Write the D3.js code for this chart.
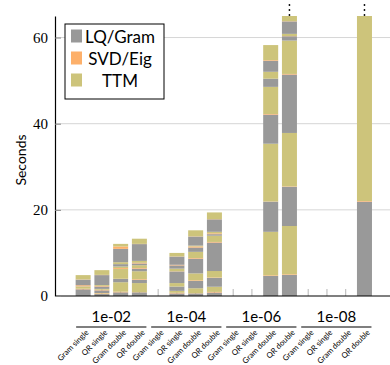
<!DOCTYPE html>
<html>
<head>
<meta charset="utf-8">
<script src="https://d3js.org/d3.v7.min.js"></script>
<style>
  body { margin: 0; background: #fff; }
  svg { display: block; }
</style>
</head>
<body>
<div id="chart"></div>
<script>
const tolerances = ["1e-02", "1e-04", "1e-06", "1e-08"];
const variants = ["Gram single", "QR single", "Gram double", "QR double"];
const components = ["LQ/Gram", "SVD/Eig", "TTM"];
const yTicks = [0, 20, 40, 60];

// seconds per sweep, one row per bar (tolerance by tolerance, variants in order)
const lqTimes = [
  [1.55, 0.05, 1.3],
  [0.45, 0.6, 0.55, 2.3],
  [0.85, 0.75, 0.05, 0.55, 3.1],
  [0.85, 0.75, 0.6, 0.4, 3.9],
  [],
  [0.6, 1.0, 2.7, 0.75, 1.9],
  [0.6, 1.7, 3.4, 1.0, 2.1],
  [0.8, 2.05, 6.6, 0.35, 2.9],
  [],
  [],
  [4.65, 7.0, 6.75, 1.9, 2.55],
  [4.9, 9.1, 13.55, 1.0, 2.9],
  [],
  [],
  [],
  [21.9]
];
const svdTimes = [
  [0.15, 0.25, 0.05],
  [0.15, 0.15, 0.15, 0.05],
  [0.15, 0.05, 0.2, 0, 0.55],
  [0.05, 0.15, 0.15, 0.15, 0.05],
  [],
  [0.15, 0, 0.05, 0.15, 0.05],
  [0.05, 0.15, 0.15, 0.25, 0.05],
  [0.15, 0.1, 0.15, 0.2, 0.05],
  [],
  [],
  [0.15, 0.05, 0.15, 0, 0.15],
  [0.15, 0.1, 0.15, 0.05, 0.05],
  [],
  [],
  [],
  [0.15]
];
const ttmTimes = [
  [0.5, 0.0, 1.0],
  [0.1, 0.2, 0.2, 1.1],
  [2.2, 2.25, 0.35, 0.45, 0.6],
  [2.1, 1.85, 0.65, 0.45, 1.2],
  [],
  [0.45, 0.8, 0.6, 0, 0.8],
  [1.15, 1.6, 1.45, 0.2, 1.4],
  [1.2, 1.5, 1.45, 0.35, 1.55],
  [],
  [],
  [10.1, 13.4, 6.3, 1.6, 3.5],
  [11.2, 12.4, 7.75, 0.5, 5.0],
  [],
  [],
  [],
  [50]
];

const colors = ["#999999", "#fdb06a", "#cdc47b"];
const yMax = 65;

const width = 390, height = 365;
const plot = { left: 55, right: 392.6, top: 16, bottom: 296 };

const svg = d3.select("#chart").append("svg")
  .attr("width", width)
  .attr("height", height);

const barKeys = [];
tolerances.forEach(t => variants.forEach(v => barKeys.push(t + "|" + v)));

const x = d3.scaleBand()
  .domain(barKeys)
  .range([plot.left, plot.right])
  .paddingInner(0.2)
  .paddingOuter(1.1);

const y = d3.scaleLinear()
  .domain([0, yMax])
  .range([plot.bottom, plot.top]);

// stacked segments: each sweep adds LQ, SVD, TTM on top of each other
const segments = [];
const totals = [];
barKeys.forEach((key, i) => {
  let base = 0;
  const sweeps = [lqTimes[i], svdTimes[i], ttmTimes[i]];
  for (let s = 0; s < lqTimes[i].length; s++) {
    sweeps.forEach((arr, c) => {
      segments.push({ key: key, comp: c, y0: base, y1: base + arr[s] });
      base += arr[s];
    });
  }
  totals.push({ key: key, total: base });
});

// grid
svg.append("g")
  .selectAll("line")
  .data(yTicks.filter(d => d > 0))
  .enter()
  .append("line")
  .attr("x1", plot.left)
  .attr("x2", plot.right)
  .attr("y1", d => y(d))
  .attr("y2", d => y(d))
  .attr("stroke", "#d6d6d6")
  .attr("stroke-width", 1);

// x ticks (inside, under bars)
const xAxis = svg.append("g")
  .attr("transform", `translate(0, ${plot.bottom})`)
  .call(d3.axisBottom(x).tickSizeInner(-7).tickSizeOuter(0).tickFormat(""));
xAxis.selectAll(".tick line").attr("stroke", "#b5b5b5");
xAxis.select(".domain").remove();

svg.append("clipPath")
  .attr("id", "plot-clip")
  .append("rect")
  .attr("x", plot.left)
  .attr("y", plot.top)
  .attr("width", plot.right - plot.left)
  .attr("height", plot.bottom - plot.top);

svg.append("g")
  .attr("clip-path", "url(#plot-clip)")
  .selectAll("rect")
  .data(segments.filter(d => d.y1 > d.y0))
  .enter()
  .append("rect")
  .attr("x", d => x(d.key))
  .attr("y", d => y(d.y1))
  .attr("width", x.bandwidth())
  .attr("height", d => y(d.y0) - y(d.y1))
  .attr("fill", d => colors[d.comp]);

// x baseline
svg.append("line")
  .attr("x1", plot.left)
  .attr("x2", plot.right)
  .attr("y1", plot.bottom)
  .attr("y2", plot.bottom)
  .attr("stroke", "#000")
  .attr("stroke-width", 1.2);

// y axis
const yAxis = svg.append("g")
  .attr("transform", `translate(${plot.left}, 0)`)
  .call(d3.axisLeft(y).tickValues(yTicks).tickSizeInner(-6).tickSizeOuter(0).tickPadding(7));
yAxis.select(".domain").attr("stroke", "#000").attr("stroke-width", 1.2);
yAxis.selectAll(".tick line").attr("stroke", "#888");
yAxis.selectAll(".tick text")
  .attr("font-family", "Liberation Serif, serif")
  .attr("font-size", 15)
  .attr("fill", "#000");

svg.append("text")
  .attr("transform", `translate(22, 160) rotate(-90)`)
  .attr("text-anchor", "middle")
  .attr("dominant-baseline", "middle")
  .attr("font-family", "Lato, sans-serif")
  .attr("font-size", 14)
  .text("Seconds");

// clipped bars get a vertical ellipsis above the axis
totals.filter(d => d.total > yMax).forEach(d => {
  svg.append("g")
    .selectAll("circle")
    .data([1, 6, 11])
    .enter()
    .append("circle")
    .attr("cx", x(d.key) + x.bandwidth() / 2)
    .attr("cy", off => y(yMax) - off)
    .attr("r", 0.9)
    .attr("fill", "#000");
});

// variant labels
svg.append("g")
  .selectAll("text")
  .data(barKeys)
  .enter()
  .append("text")
  .attr("transform", d => `translate(${x(d) + x.bandwidth() / 2 + 6}, 333) rotate(-45)`)
  .attr("text-anchor", "end")
  .attr("font-family", "Lato, sans-serif")
  .attr("font-size", 7.8)
  .text(d => d.split("|")[1]);

// tolerance groups
const groups = svg.append("g");
tolerances.forEach(t => {
  const first = x(t + "|" + variants[0]) + x.bandwidth() / 2;
  const last = x(t + "|" + variants[variants.length - 1]) + x.bandwidth() / 2;
  groups.append("text")
    .attr("x", (first + last) / 2)
    .attr("y", 322)
    .attr("text-anchor", "middle")
    .attr("font-family", "Lato, sans-serif")
    .attr("font-size", 15)
    .text(t);
  groups.append("line")
    .attr("x1", first - 7)
    .attr("x2", last + 7)
    .attr("y1", 327)
    .attr("y2", 327)
    .attr("stroke", "#555")
    .attr("stroke-width", 1.3);
});

// legend
const legend = svg.append("g").attr("transform", "translate(65, 24)");
legend.append("rect")
  .attr("width", 99)
  .attr("height", 75)
  .attr("fill", "#fff")
  .attr("stroke", "#000")
  .attr("stroke-width", 1);
components.forEach((c, i) => {
  const cy = 12.5 + i * 22;
  legend.append("rect")
    .attr("x", 6)
    .attr("y", cy - 7)
    .attr("width", 11)
    .attr("height", 13)
    .attr("fill", colors[i]);
  legend.append("text")
    .attr("x", 55)
    .attr("y", cy + 6)
    .attr("text-anchor", "middle")
    .attr("font-family", "Lato, sans-serif")
    .attr("font-size", 17)
    .text(c);
});
</script>
</body>
</html>
